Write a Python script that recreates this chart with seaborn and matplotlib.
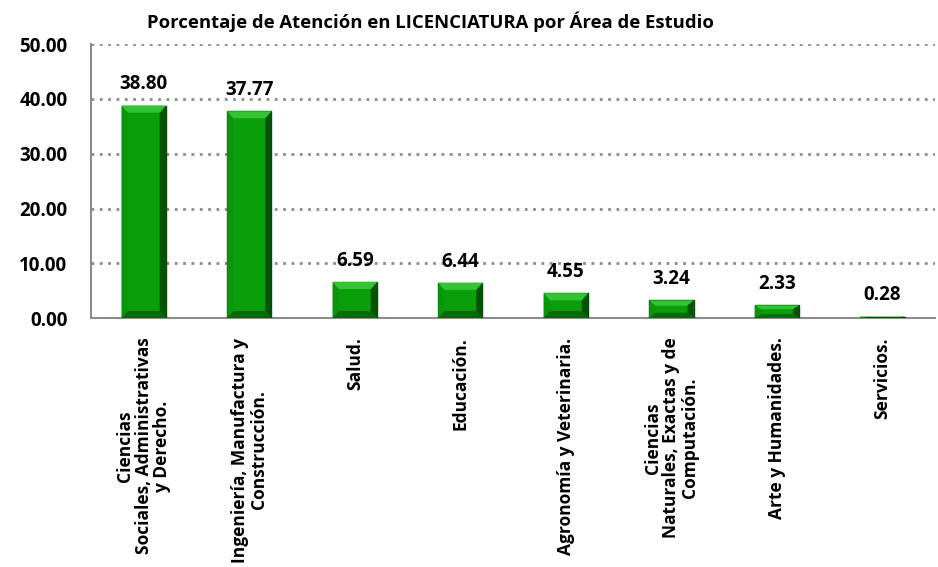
import matplotlib
matplotlib.use('Agg')
import matplotlib.pyplot as plt
from matplotlib.patches import Polygon
import seaborn as sns
import pandas as pd

# datos
areas = [
    'Ciencias\nSociales, Administrativas\ny Derecho.',
    'Ingeniería, Manufactura y\nConstrucción.',
    'Salud.',
    'Educación.',
    'Agronomía y Veterinaria.',
    'Ciencias\nNaturales, Exactas y de\nComputación.',
    'Arte y Humanidades.',
    'Servicios.',
]
porcentajes = [38.80, 37.77, 6.59, 6.44, 4.55, 3.24, 2.33, 0.28]
y_ticks = [0, 10, 20, 30, 40, 50]

df = pd.DataFrame({'area': areas, 'pct': porcentajes})

sns.set_style('white')
plt.rcParams['font.family'] = ['Open Sans', 'DejaVu Sans']
plt.rcParams['font.weight'] = 'bold'
plt.rcParams['text.color'] = 'black'
plt.rcParams['xtick.color'] = 'black'
plt.rcParams['ytick.color'] = 'black'

fig = plt.figure(figsize=(9.38, 5.67), dpi=100)
ax = fig.add_axes([0.097, 0.439, 0.9, 0.483])

sns.barplot(data=df, x='area', y='pct', color='#0b9e0b', width=0.42,
            edgecolor='#064a06', linewidth=1.0, saturation=1, ax=ax, zorder=3)

# efecto de bisel sobre cada barra
for p in ax.patches:
    x0, y0 = p.get_x(), p.get_y()
    w, h = p.get_width(), p.get_height()
    if h <= 0:
        continue
    dx = w * 0.14
    dy = min(1.3, h * 0.3)
    top = Polygon([(x0, y0 + h), (x0 + w, y0 + h), (x0 + w - dx, y0 + h - dy), (x0 + dx, y0 + h - dy)],
                  closed=True, facecolor='#35c235', edgecolor='none', zorder=4)
    right = Polygon([(x0 + w, y0 + h), (x0 + w, y0), (x0 + w - dx, y0 + dy), (x0 + w - dx, y0 + h - dy)],
                    closed=True, facecolor='#045204', edgecolor='none', zorder=4)
    left = Polygon([(x0, y0 + h), (x0, y0), (x0 + dx, y0 + dy), (x0 + dx, y0 + h - dy)],
                   closed=True, facecolor='#0a960a', edgecolor='none', zorder=4)
    bottom = Polygon([(x0, y0), (x0 + w, y0), (x0 + w - dx, y0 + dy), (x0 + dx, y0 + dy)],
                     closed=True, facecolor='#076a07', edgecolor='none', zorder=4)
    for poly in (left, right, top, bottom):
        ax.add_patch(poly)

ax.bar_label(ax.containers[0], fmt='%.2f', padding=8, fontsize=13.5, fontweight='bold', zorder=5)

ax.set_ylim(0, 50)
ax.set_xlim(-0.5, len(areas) - 0.5)
ax.set_yticks(y_ticks)
ax.set_yticklabels([f'{v:.2f}' for v in y_ticks], fontsize=13.5, fontweight='bold')
ax.yaxis.grid(True, linestyle=(0, (1, 2)), color='#8c8c8c', linewidth=2, zorder=0)
ax.set_axisbelow(True)

ax.tick_params(axis='x', which='major', length=0, labelsize=12.5, pad=14)
ax.set_xticks([i + 0.5 for i in range(len(areas) - 1)], minor=True)
ax.tick_params(axis='x', which='minor', length=6, color='#8c8c8c', width=1.2, direction='out')
ax.tick_params(axis='y', length=6, color='#8c8c8c', width=1.2, direction='out', pad=11)
for lbl in ax.get_xticklabels():
    lbl.set_rotation(90)
    lbl.set_fontweight('bold')
    lbl.set_multialignment('center')
    lbl.set_linespacing(1.05)

for s in ['top', 'right']:
    ax.spines[s].set_visible(False)
for s in ['left', 'bottom']:
    ax.spines[s].set_color('#8c8c8c')
    ax.spines[s].set_linewidth(1.5)

ax.set_xlabel('')
ax.set_ylabel('')
fig.text(0.459, 0.962, 'Porcentaje de Atención en LICENCIATURA por Área de Estudio',
         ha='center', va='center', fontsize=13.3, fontweight='bold')

fig.savefig('out.png', dpi=100)
